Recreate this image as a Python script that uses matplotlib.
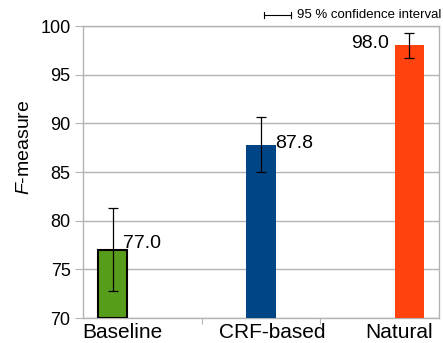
import matplotlib
matplotlib.use("Agg")
import matplotlib.pyplot as plt
import numpy as np

plt.rcParams['font.family'] = ['Liberation Sans', 'DejaVu Sans']
plt.rcParams['mathtext.fontset'] = 'custom'
plt.rcParams['mathtext.it'] = 'Liberation Sans:italic'
plt.rcParams['mathtext.rm'] = 'Liberation Sans'

categories = ["Baseline", "CRF-based", "Natural"]
values = [77.0, 87.8, 98.0]
ci_low = [72.8, 85.0, 96.7]
ci_high = [81.3, 90.7, 99.3]
colors = ["#579d1c", "#004586", "#ff420e"]
edgecolors = ["black", "#004586", "#ff420e"]
offsets = [-0.25, 0.0, 0.25]
yticks = [70, 75, 80, 85, 90, 95, 100]

fig = plt.figure(figsize=(4.43, 3.43), dpi=100)
ax = fig.add_axes([83 / 443, 25 / 343, 356 / 443, 292 / 343])

grey = "#b3b3b3"
x = np.arange(len(categories))
for i in range(len(categories)):
    xi = x[i] + offsets[i]
    ax.bar(xi, values[i] - 70, bottom=70, width=0.25, color=colors[i],
           edgecolor=edgecolors[i], linewidth=1.5 if i == 0 else 0, zorder=3)
    ax.errorbar(xi, values[i], yerr=[[values[i] - ci_low[i]], [ci_high[i] - values[i]]],
                fmt='none', ecolor='black', elinewidth=0.9, capsize=3.3, capthick=0.9, zorder=4)

# value labels (anchored relative to the bars)
label_pos = [(x[0] + offsets[0] + 0.087, values[0] + 0.2, 'left'),
             (x[1] + offsets[1] + 0.118, values[1] - 0.33, 'left'),
             (x[2] + offsets[2] - 0.171, values[2] - 0.26, 'right')]
for i, (lx, ly, ha) in enumerate(label_pos):
    ax.text(lx, ly, f"{values[i]:.1f}", ha=ha, va='baseline', fontsize=14, zorder=5)

ax.set_xlim(-0.5, 2.5)
ax.set_ylim(70, 100)
ax.set_yticks(yticks)
ax.set_yticklabels([str(t) for t in yticks], fontsize=13)
ax.yaxis.grid(True, color=grey, linewidth=1, zorder=0)
ax.set_axisbelow(True)
for s in ax.spines.values():
    s.set_color(grey)
    s.set_linewidth(1)
ax.tick_params(axis='y', length=6, color=grey, pad=3)

ax.set_xticks([0.5, 1.5])
ax.set_xticklabels([])
ax.tick_params(axis='x', length=4, color=grey)

xlabel_x = [-0.17, 1.093, 2.163]
for lx, c in zip(xlabel_x, categories):
    ax.text(lx, -0.068, c, transform=ax.get_xaxis_transform(), ha='center', va='baseline', fontsize=15)

fig.text(25 / 443, 1 - 147 / 343, r"$F$-measure", fontsize=14, rotation=90, ha='center', va='center')

# legend for confidence interval
ly = 1 - 14.5 / 343
lc = 'black'
fig.add_artist(plt.Line2D([264 / 443, 291 / 443], [ly, ly], color=lc, linewidth=0.8))
fig.add_artist(plt.Line2D([264 / 443, 264 / 443], [ly - 3 / 343, ly + 3 / 343], color=lc, linewidth=0.8))
fig.add_artist(plt.Line2D([291 / 443, 291 / 443], [ly - 3 / 343, ly + 3 / 343], color=lc, linewidth=0.8))
fig.text(297 / 443, ly, "95 % confidence interval", fontsize=9.5, va='center', ha='left')

fig.savefig("out.png", dpi=100)
